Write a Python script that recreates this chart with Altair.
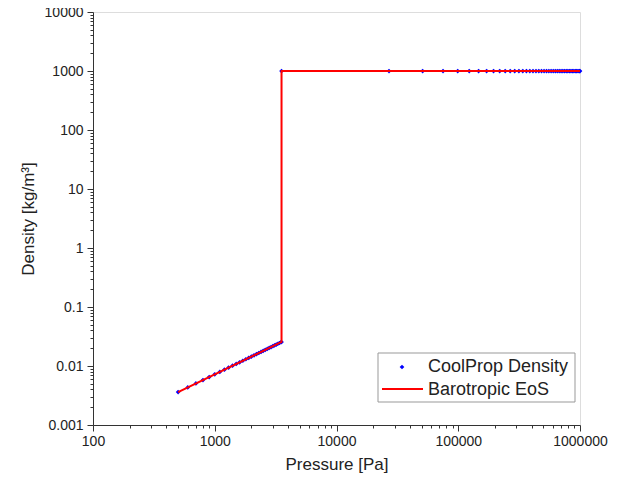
import altair as alt
import pandas as pd

# CoolProp vapour-side points (Pa, kg/m3)
vapor_p = [500, 600, 700, 800, 900, 1000, 1100, 1200, 1300, 1400, 1500, 1600,
           1700, 1800, 1900, 2000, 2100, 2200, 2300, 2400, 2500, 2600, 2700,
           2800, 2900, 3000, 3100, 3200, 3300, 3400, 3500, 3536]
vapor_rho = [0.00361, 0.00433, 0.00506, 0.00578, 0.00650, 0.00722, 0.00795,
             0.00867, 0.00939, 0.01011, 0.01083, 0.01156, 0.01228, 0.01300,
             0.01372, 0.01445, 0.01517, 0.01589, 0.01661, 0.01733, 0.01806,
             0.01878, 0.01950, 0.02022, 0.02095, 0.02167, 0.02239, 0.02311,
             0.02384, 0.02456, 0.02528, 0.02554]

# CoolProp liquid-side points
liquid_p = [3536, 27000, 51000, 75000, 99000, 123000, 147000, 171000, 195000,
            219000, 243000, 267000, 291000, 315000, 339000, 363000, 387000,
            411000, 435000, 459000, 483000, 507000, 531000, 555000, 579000,
            603000, 627000, 651000, 675000, 699000, 723000, 747000, 771000,
            795000, 819000, 843000, 867000, 891000, 915000, 939000, 963000,
            987000, 1000000]
liquid_rho = [996.5, 996.5, 996.5, 996.5, 996.5, 996.5, 996.6, 996.6, 996.6,
              996.6, 996.6, 996.6, 996.6, 996.6, 996.7, 996.7, 996.7, 996.7,
              996.7, 996.7, 996.7, 996.7, 996.7, 996.8, 996.8, 996.8, 996.8,
              996.8, 996.8, 996.8, 996.8, 996.8, 996.8, 996.9, 996.9, 996.9,
              996.9, 996.9, 996.9, 996.9, 996.9, 996.9, 996.9]

# Barotropic EoS line
eos_p = [500, 3536, 3536, 1000000]
eos_rho = [0.00361, 0.02554, 996.5, 996.9]

x_ticks = [100, 200, 300, 400, 500, 600, 700, 800, 900,
           1000, 2000, 3000, 4000, 5000, 6000, 7000, 8000, 9000,
           10000, 20000, 30000, 40000, 50000, 60000, 70000, 80000, 90000,
           100000, 200000, 300000, 400000, 500000, 600000, 700000, 800000, 900000,
           1000000]
y_ticks = []
for e in range(-3, 4):
    for m in range(1, 10):
        y_ticks.append(m * 10.0 ** e)
y_ticks.append(10000)

names = ["CoolProp Density", "Barotropic EoS"]
BLUE = "#0000ff"
RED = "#ff0000"

pts = pd.DataFrame({"p": vapor_p + liquid_p, "rho": vapor_rho + liquid_rho})
eos = pd.DataFrame({"p": eos_p, "rho": eos_rho, "i": list(range(len(eos_p)))})
one = pd.DataFrame({"k": [0]})

major_test = "abs(log(datum.value)/LN10 - round(log(datum.value)/LN10)) < 1e-6"
label_expr = f"{major_test} ? format(datum.value, '.7~g') : ''"

font = "Liberation Sans"
xs = alt.Scale(type="log", domain=[100, 1000000], nice=False)
ys = alt.Scale(type="log", domain=[0.001, 10000], nice=False)

x_axis = alt.Axis(values=x_ticks, labelExpr=label_expr, grid=False,
                  title="Pressure [Pa]", titleFontSize=17, titleFont=font,
                  titleFontWeight="normal", titleColor="#222",
                  labelFont=font, labelFontSize=14, labelColor="#222",
                  labelPadding=3, titlePadding=8, labelFlush=False,
                  tickSize={"condition": {"test": major_test, "value": 6}, "value": 3},
                  tickColor="#333", domainColor="#333", labelOverlap=False)
y_axis = alt.Axis(values=y_ticks, labelExpr=label_expr, grid=False,
                  title="Density [kg/m³]", titleFontSize=17, titleFont=font,
                  titleFontWeight="normal", titleColor="#222",
                  labelFont=font, labelFontSize=14, labelColor="#222",
                  labelPadding=4, titlePadding=7, labelFlush=False,
                  tickSize={"condition": {"test": major_test, "value": 6}, "value": 3},
                  tickColor="#333", domainColor="#333", labelOverlap=False)

points = alt.Chart(pts).mark_point(filled=True, opacity=1, shape="diamond",
                                   size=22, color=BLUE).encode(
    x=alt.X("p:Q", scale=xs, axis=x_axis),
    y=alt.Y("rho:Q", scale=ys, axis=y_axis),
)

line = alt.Chart(eos).mark_line(strokeWidth=2, color=RED).encode(
    x=alt.X("p:Q", scale=xs),
    y=alt.Y("rho:Q", scale=ys),
    order="i:Q",
)

# legend (drawn in pixel space of the plot area)
leg_box = alt.Chart(one).mark_rect(fill="white", stroke="#999", strokeWidth=1).encode(
    x=alt.value(285), x2=alt.value(482), y=alt.value(341), y2=alt.value(390))
leg_pt = alt.Chart(one).mark_point(filled=True, shape="diamond", size=22,
                                   color=BLUE, opacity=1).encode(
    x=alt.value(309), y=alt.value(355))
leg_ln = alt.Chart(one).mark_rule(color=RED, strokeWidth=2).encode(
    x=alt.value(289), x2=alt.value(330), y=alt.value(377))
leg_t1 = alt.Chart(one).mark_text(align="left", baseline="middle", font=font,
                                  fontSize=18, color="#222").encode(
    x=alt.value(335), y=alt.value(355), text=alt.value(names[0]))
leg_t2 = alt.Chart(one).mark_text(align="left", baseline="middle", font=font,
                                  fontSize=18, color="#222").encode(
    x=alt.value(335), y=alt.value(378), text=alt.value(names[1]))

chart = alt.layer(points, line, leg_box, leg_pt, leg_ln, leg_t1, leg_t2).properties(
    width=487, height=413,
    autosize=alt.AutoSizeParams(type="none"),
    padding={"left": 85, "top": 4, "right": 32, "bottom": 51},
).configure_view(stroke=None).configure(background="white")

chart.save("out.html", embed_options={"renderer": "svg", "actions": False})
